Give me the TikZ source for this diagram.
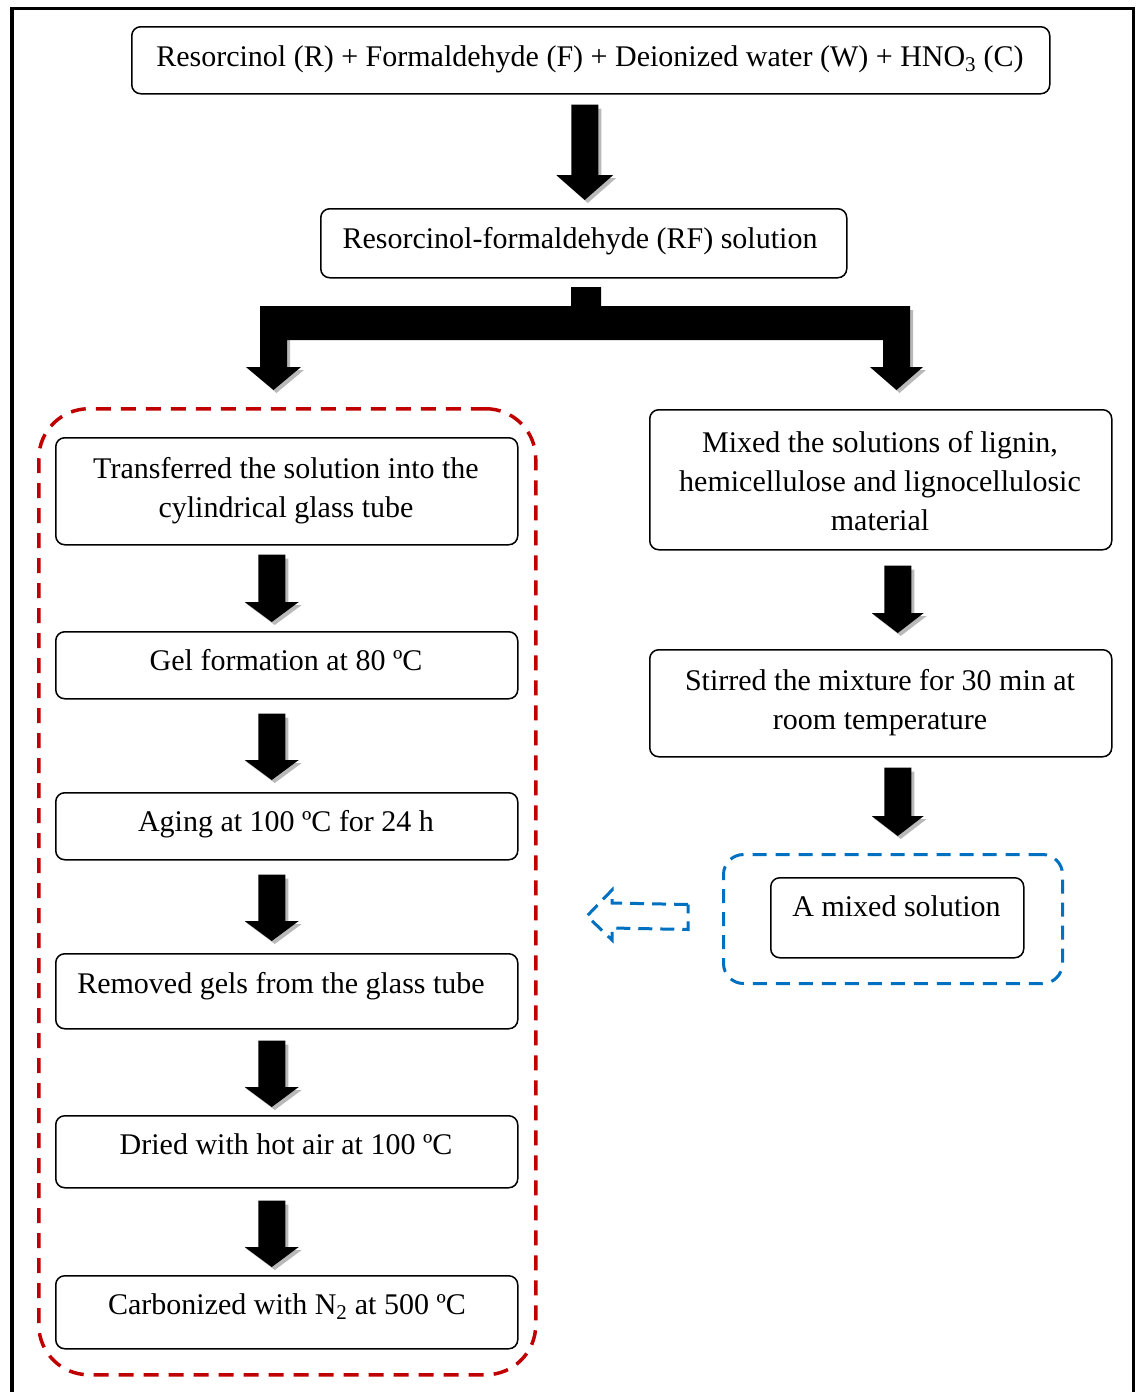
\documentclass[tikz,border=0pt]{standalone}
\usepackage{fontspec}
\setmainfont{Liberation Serif}
\usetikzlibrary{calc}
\definecolor{dred}{RGB}{192,0,0}
\definecolor{dblue}{RGB}{0,112,192}
\definecolor{shadowc}{RGB}{185,185,185}
\tikzset{
  x=1pt, y=-1pt,
  box/.style={draw, line width=1.5pt, rounded corners=9pt, inner sep=0pt, anchor=north west},
  txt/.style={font=\fontsize{30}{39}\selectfont, inner sep=0pt, align=center, anchor=base},
  reddash/.style={draw=dred, line width=3.5pt, dash pattern=on 15pt off 10pt, rounded corners=50pt, inner sep=0pt, anchor=north west},
  bluedash/.style={draw=dblue, line width=3pt, dash pattern=on 14pt off 9pt, rounded corners=20pt, inner sep=0pt, anchor=north west},
}
% block arrow: #1 top point, #2 tip point, #3 head length (pt), #4 head half width (pt)
\newcommand\blockarrow[4]{%
  \fill[shadowc] let \p1=#1, \p2=#2 in
    (\x1+10.5pt,\y1-4pt) -- (\x1+16.5pt,\y1-4pt) -- (\x1+16.5pt,\y2+#3pt-3pt) -- (\x1+#4pt+3pt,\y2+#3pt-3pt)
    -- (\x1+3pt,\y2-3pt) -- (\x1-#4pt+3pt,\y2+#3pt-3pt) -- (\x1-#4pt,\y2+#3pt) -- (\x1+10.5pt,\y2+#3pt) -- cycle;
  \fill[black] let \p1=#1, \p2=#2 in
    (\x1-13.5pt,\y1) -- (\x1+13.5pt,\y1) -- (\x1+13.5pt,\y2+#3pt) -- (\x1+#4pt,\y2+#3pt)
    -- (\x1,\y2) -- (\x1-#4pt,\y2+#3pt) -- (\x1-13.5pt,\y2+#3pt) -- cycle;
}
\begin{document}
\begin{tikzpicture}
\useasboundingbox (0,0) rectangle (1136,1392);
% outer frame
\draw[line width=4pt] (12,1392) -- (12,8.5);
\draw[line width=3pt] (10,8.5) -- (1135,8.5);
\draw[line width=2.5pt] (1133.5,7) -- (1133.5,1392);

% group frames
\node[reddash, minimum width=497pt, minimum height=966pt] (grpL) at (37,407) {};
\node[bluedash, minimum width=339pt, minimum height=129pt] (grpR) at (722,853) {};

% boxes
\node[box, minimum width=918pt, minimum height=67pt] (r0) at (131,26) {};
\node[box, minimum width=526pt, minimum height=69pt] (rf) at (320,208) {};
\node[box, minimum width=462pt, minimum height=107pt] (b1) at (55,437) {};
\node[box, minimum width=462pt, minimum height=67pt] (b2) at (55,631) {};
\node[box, minimum width=462pt, minimum height=67pt] (b3) at (55,792) {};
\node[box, minimum width=462pt, minimum height=75pt] (b4) at (55,953) {};
\node[box, minimum width=462pt, minimum height=72pt] (b5) at (55,1115) {};
\node[box, minimum width=462pt, minimum height=73pt] (b6) at (55,1275) {};
\node[box, minimum width=462pt, minimum height=140pt] (m1) at (649,409) {};
\node[box, minimum width=462pt, minimum height=107pt] (m2) at (649,649) {};
\node[box, minimum width=253pt, minimum height=80pt] (m3) at (770,877) {};

% texts (anchor base = baseline of last line)
\node[txt] (t0) at (590,66) {Resorcinol (R) + Formaldehyde (F) + Deionized water (W) + HNO\textsubscript{3} (C)};
\node[txt] (trf) at (580,248) {Resorcinol-formaldehyde (RF) solution};
\node[txt] (t1) at (286,517) {Transferred the solution into the\\cylindrical glass tube};
\node[txt] (t2) at (286,670) {Gel formation at 80 ºC};
\node[txt] (t3) at (286,831) {Aging at 100 ºC for 24 h};
\node[txt] (t4) at (281,993) {Removed gels from the glass tube};
\node[txt] (t5) at (286,1154) {Dried with hot air at 100 ºC};
\node[txt] (t6) at (287,1314) {Carbonized with N\textsubscript{2} at 500 ºC};
\node[txt] (tm1) at (880,530) {Mixed the solutions of lignin,\\hemicellulose and lignocellulosic\\material};
\node[txt] (tm2) at (880,729) {Stirred the mixture for 30 min at\\room temperature};
\node[txt] (tm3) at (896.5,916) {A mixed solution};

% block arrows
\blockarrow{($(r0.south)+(-6,10)$)}{($(rf.north)+(1,-8)$)}{25}{28.5}
\blockarrow{($(b1.south)+(-15,9)$)}{($(b2.north)+(-15,-9)$)}{20}{27}
\blockarrow{($(b2.south)+(-15,14)$)}{($(b3.north)+(-15,-12)$)}{20}{27}
\blockarrow{($(b3.south)+(-15,14)$)}{($(b4.north)+(-15,-12)$)}{20}{27}
\blockarrow{($(b4.south)+(-15,11)$)}{($(b5.north)+(-15,-8)$)}{20}{27}
\blockarrow{($(b5.south)+(-15,12)$)}{($(b6.north)+(-15,-8)$)}{20}{27}
\blockarrow{($(m1.south)+(17,15)$)}{($(m2.north)+(17,-16)$)}{20}{26}
\blockarrow{($(m2.south)+(17,10)$)}{($(grpR.north)+(5.5,-17)$)}{20}{26}

% branch connector
\fill[shadowc] (287,340) -- (290,340) -- (290,370) -- (304,370) -- (276.5,393) -- (246,367) -- (287,367) -- cycle;
\fill[shadowc] (910,310) -- (913,310) -- (913,370) -- (926,370) -- (899.5,393) -- (870,367) -- (910,367) -- cycle;
\fill[black] (571,287) -- (601,287) -- (601,306) -- (910,306) -- (910,367) -- (923,367) -- (896.5,390)
  -- (870,367) -- (883,367) -- (883,340) -- (287,340) -- (287,367) -- (301,367) -- (273.5,390)
  -- (246,367) -- (260,367) -- (260,306) -- (571,306) -- cycle;

% hollow dashed arrow from mixed solution group toward left group
\draw[dblue, line width=3pt, dash pattern=on 14pt off 8pt]
  ($(grpR.west)+(-34,-14.5)$) -- (612,903) -- (612,890) -- (587,916) -- (612,940) -- (612,928)
  -- ($(grpR.west)+(-34,10.5)$) -- cycle;
\end{tikzpicture}
\end{document}
